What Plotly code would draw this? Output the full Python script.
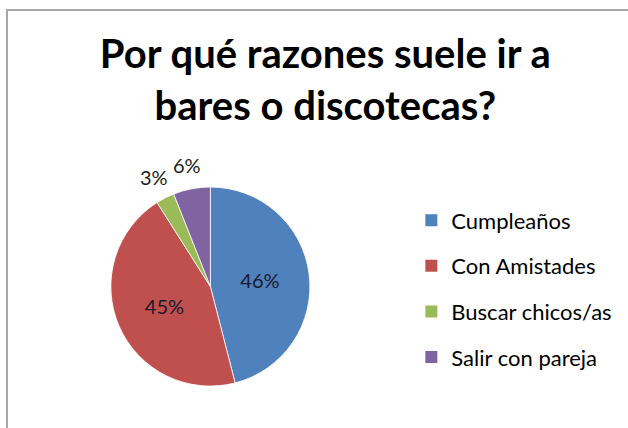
import math
import plotly.graph_objects as go

# Survey results: reasons for going to bars or nightclubs
categories = ["Cumpleaños", "Con Amistades", "Buscar chicos/as", "Salir con pareja"]
shares = [46, 45, 3, 6]
colors = ["#4F81BD", "#C0504D", "#9BBB59", "#8064A2"]
inside_label = [True, True, False, False]
title_text = "<b>Por qué razones suele ir a<br>bares o discotecas?</b>"

FONT = "Lato"
W, H = 628, 428
PIE_X = [0.175, 0.495]
PIE_Y = [0.098, 0.563]

fig = go.Figure()

fig.add_trace(go.Pie(
    labels=categories,
    values=shares,
    sort=False,
    direction="clockwise",
    rotation=0,
    marker=dict(colors=colors, line=dict(color="white", width=0.8)),
    texttemplate="%{value}%",
    textposition=["inside" if f else "none" for f in inside_label],
    insidetextorientation="horizontal",
    textfont=dict(family=FONT, size=20, color="#1a1a2e"),
    showlegend=False,
    hoverinfo="label+percent",
    domain=dict(x=PIE_X, y=PIE_Y),
))

# Small slices get their percentage written just outside the rim
cx = (PIE_X[0] + PIE_X[1]) / 2 * W
cy = (PIE_Y[0] + PIE_Y[1]) / 2 * H
radius = min((PIE_X[1] - PIE_X[0]) * W, (PIE_Y[1] - PIE_Y[0]) * H) / 2
total = sum(shares)
cum = 0
for val, inside in zip(shares, inside_label):
    mid = (cum + val / 2) / total * 2 * math.pi
    cum += val
    if inside:
        continue
    r = radius * 1.24
    fig.add_annotation(
        x=(cx + r * math.sin(mid)) / W, y=(cy + r * math.cos(mid)) / H,
        xref="paper", yref="paper", text=f"{val}%", showarrow=False,
        xanchor="center", yanchor="middle",
        font=dict(family=FONT, size=20, color="#222222"),
    )

# Legend entries, one group per category so the rows can be spaced out
for name, col in zip(categories, colors):
    fig.add_trace(go.Scatter(
        x=[None], y=[None], mode="markers", name=name,
        legendgroup=name,
        marker=dict(symbol="square", size=12, color=col),
    ))

fig.update_layout(
    width=W, height=H,
    margin=dict(l=0, r=0, t=0, b=0),
    paper_bgcolor="white", plot_bgcolor="white",
    title=dict(text=title_text, x=0.518, xanchor="center", y=0.84, yanchor="middle",
               font=dict(family=FONT, size=40, color="#000000")),
    xaxis=dict(visible=False), yaxis=dict(visible=False),
    legend=dict(x=0.655, y=0.325, xanchor="left", yanchor="middle",
                font=dict(family=FONT, size=22, color="#000000"),
                tracegroupgap=14, traceorder="grouped",
                itemwidth=30, bgcolor="rgba(0,0,0,0)"),
    shapes=[dict(type="rect", xref="paper", yref="paper",
                 x0=7 / W, x1=1.05, y0=-0.05, y1=1 - 10 / H,
                 line=dict(color="#A6A6A6", width=2))],
)

fig.write_html("out.html")
